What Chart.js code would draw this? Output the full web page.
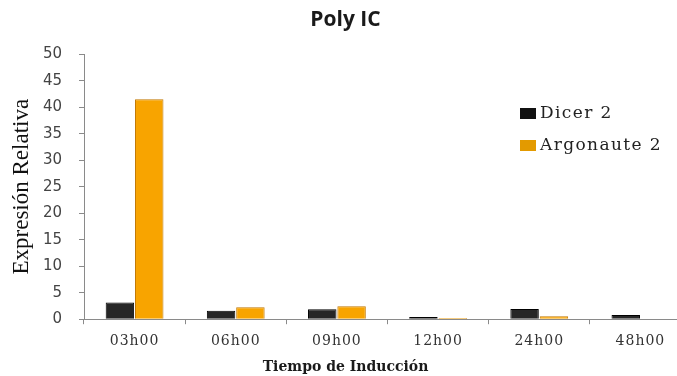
<!DOCTYPE html>
<html>
<head>
<meta charset="utf-8">
<script src="https://cdn.jsdelivr.net/npm/chart.js@4/dist/chart.umd.min.js"></script>
<style>
  html, body { margin: 0; padding: 0; background: #fff; overflow: hidden; }
  /* the original plot runs past the right edge of the picture */
  #wrap { width: 677px; height: 376px; overflow: hidden; }
</style>
</head>
<body>
<div id="wrap"><canvas id="chart" width="691" height="376"></canvas></div>
<script>
const categories = ['03h00', '06h00', '09h00', '12h00', '24h00', '48h00'];
const dicer2 = [3.15, 1.6, 1.87, 0.4, 1.93, 0.77];
const argonaute2 = [41.5, 2.25, 2.45, 0.25, 0.58, 0];
const seriesNames = ['Dicer 2', 'Argonaute 2'];

// bar fill: darker edges, lighter middle, like the old Excel bevel
function barFill(ctx, dark, mid) {
  const el = ctx.element;
  if (!el || el.width === undefined || isNaN(el.x)) return mid;
  const c = ctx.chart.ctx;
  const g = c.createLinearGradient(el.x - el.width / 2, 0, el.x + el.width / 2, 0);
  g.addColorStop(0, dark);
  g.addColorStop(0.2, mid);
  g.addColorStop(0.8, mid);
  g.addColorStop(1, dark);
  return g;
}

// legend sits inside the plot, upper right
const insideLegend = {
  id: 'insideLegend',
  afterDraw(chart) {
    const { ctx } = chart;
    ctx.save();
    ctx.font = '17px "DejaVu Serif"';
    ctx.letterSpacing = '1.4px';
    ctx.textBaseline = 'middle';
    chart.data.datasets.forEach((ds, i) => {
      const y = 113 + i * 32;
      ctx.fillStyle = ds.legendColor;
      ctx.fillRect(520, y - 5, 16, 11);
      ctx.fillStyle = '#222';
      ctx.fillText(ds.label, 540, y + 1);
    });
    ctx.restore();
  }
};

// x tick labels in the original are spaced out a bit
const spacedTicks = {
  id: 'spacedTicks',
  beforeDraw(chart) {
    const sx = chart.scales.x;
    if (sx._spaced) return;
    const orig = sx.drawLabels.bind(sx);
    sx.drawLabels = function (area) {
      const c = this.ctx;
      c.save();
      c.letterSpacing = '1px';
      orig(area);
      c.restore();
    };
    sx._spaced = true;
  }
};

new Chart(document.getElementById('chart'), {
  type: 'bar',
  data: {
    labels: categories,
    datasets: [
      {
        label: seriesNames[0],
        data: dicer2,
        legendColor: '#111',
        backgroundColor: ctx => barFill(ctx, '#000', '#262626'),
        borderColor: '#000',
        borderWidth: 1
      },
      {
        label: seriesNames[1],
        data: argonaute2,
        legendColor: '#e39a00',
        backgroundColor: ctx => barFill(ctx, '#dc8900', '#f8a400'),
        borderColor: '#c27800',
        borderWidth: 1
      }
    ]
  },
  options: {
    responsive: false,
    animation: false,
    layout: { padding: 0 },
    datasets: {
      bar: { categoryPercentage: 0.58, barPercentage: 0.97 }
    },
    plugins: {
      legend: { display: false },
      tooltip: { enabled: false },
      title: {
        display: true,
        text: 'Poly IC',
        color: '#1a1a1a',
        font: { family: '"Open Sans"', size: 21, weight: 'bold' },
        padding: { top: 7, bottom: 22 }
      },
      // axis title of x, centred on the page like in the original
      subtitle: {
        display: true,
        position: 'bottom',
        text: 'Tiempo de Inducción',
        color: '#1a1a1a',
        font: { family: '"DejaVu Serif"', size: 14, weight: 'bold' },
        padding: { top: 0, bottom: 0 }
      }
    },
    scales: {
      x: {
        afterFit(scale) { scale.height = 40; },
        border: { color: '#8a8a8a', width: 1 },
        grid: { drawOnChartArea: false, tickLength: 5, color: '#8a8a8a' },
        ticks: {
          color: '#333',
          font: { family: '"DejaVu Serif"', size: 14 },
          padding: 9
        }
      },
      y: {
        min: 0,
        max: 50,
        afterFit(scale) { scale.width = 84; },
        border: { color: '#8a8a8a', width: 1 },
        grid: { drawOnChartArea: false, tickLength: 5, color: '#8a8a8a' },
        ticks: {
          stepSize: 5,
          color: '#444',
          font: { family: '"DejaVu Sans"', size: 15 },
          padding: 17
        },
        title: {
          display: true,
          text: 'Expresión Relativa',
          color: '#111',
          font: { family: '"Liberation Serif"', size: 23 },
          padding: { top: 8, bottom: 0 }
        }
      }
    }
  },
  plugins: [insideLegend, spacedTicks]
});
</script>
</body>
</html>
